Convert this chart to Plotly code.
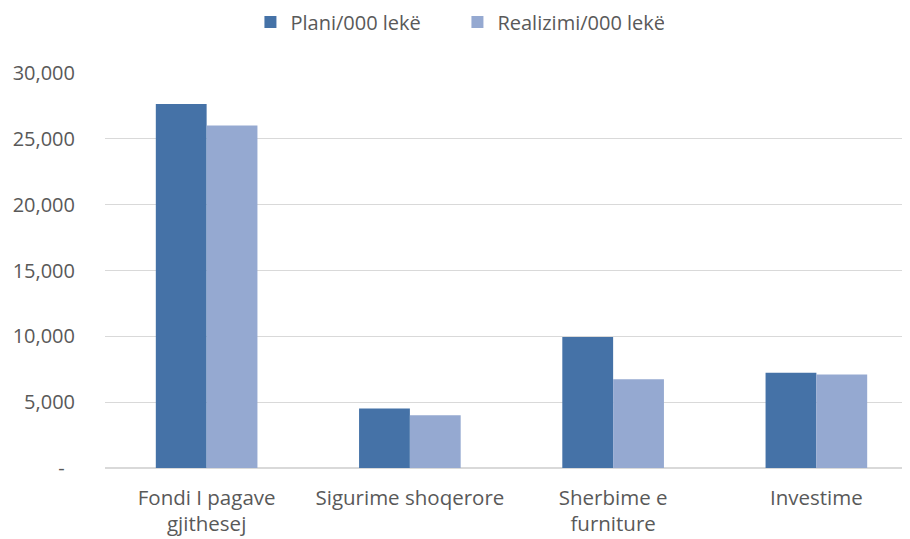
import plotly.graph_objects as go

categories = ["Fondi I pagave<br>gjithesej", "Sigurime shoqerore", "Sherbime e<br>furniture", "Investime"]
plani = [27650, 4520, 9950, 7240]
realizimi = [26020, 4010, 6750, 7110]
series_names = ["Plani/000 lekë", "Realizimi/000 lekë"]
y_tick_vals = [0, 5000, 10000, 15000, 20000, 25000, 30000]
y_tick_text = ["-\u00a0\u00a0", "5,000", "10,000", "15,000", "20,000", "25,000", "30,000"]

font_family = "Open Sans"
text_color = "#595959"

fig = go.Figure()
fig.add_trace(go.Bar(x=categories, y=plani, name=series_names[0],
                     marker=dict(color="#4572A7", line=dict(width=0))))
fig.add_trace(go.Bar(x=categories, y=realizimi, name=series_names[1],
                     marker=dict(color="#95A9D1", line=dict(width=0))))

fig.update_layout(
    width=910, height=539,
    margin=dict(l=97, r=0, t=65, b=79, autoexpand=False),
    paper_bgcolor="white", plot_bgcolor="white",
    barmode="group", bargap=0.5, bargroupgap=0,
    font=dict(family=font_family, color=text_color, size=19),
    legend=dict(orientation="h", x=0.4335, xanchor="center",
                y=0.974, yref="container", yanchor="middle",
                font=dict(size=20, color=text_color),
                itemwidth=30, entrywidth=162, entrywidthmode="pixels",
                traceorder="normal"),
    xaxis=dict(range=[-0.5, 3.5], showgrid=False, zeroline=False,
               showline=False, ticks="", automargin=False,
               tickfont=dict(size=20.5, color=text_color),
               ticklabelstandoff=15),
    yaxis=dict(range=[0, 30000], tickvals=y_tick_vals, ticktext=y_tick_text,
               showgrid=True, gridcolor="#D9D9D9", gridwidth=1,
               zeroline=True, zerolinecolor="#D9D9D9", zerolinewidth=2,
               showline=False, ticks="", automargin=False,
               tickfont=dict(size=20, color=text_color),
               ticklabelstandoff=29),
)

fig.write_html("out.html")
